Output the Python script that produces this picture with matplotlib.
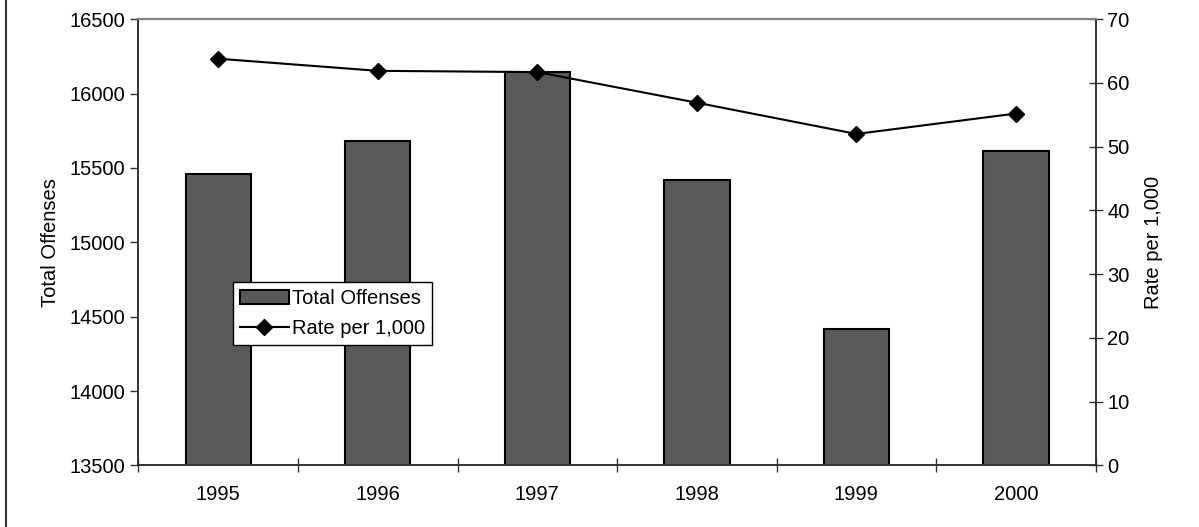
import numpy as np
import matplotlib.pyplot as plt
from matplotlib.lines import Line2D

years = ['1995', '1996', '1997', '1998', '1999', '2000']
offenses = [15461, 15684, 16145, 15422, 14417, 15617]
rate = [63.8, 61.9, 61.7, 56.9, 52.0, 55.2]

plt.rcParams['font.family'] = ['Liberation Sans', 'DejaVu Sans']
fs = 14.5

fig = plt.figure(figsize=(11.99, 5.27), dpi=100)
ax = fig.add_axes([0.1155, 0.1167, 0.7983, 0.8469])
ax2 = ax.twinx()

x = np.arange(len(years))
bars = ax.bar(x, offenses, width=0.41, color='#595959', edgecolor='black', lw=1.5,
              label='Total Offenses', zorder=2)
ln, = ax2.plot(x, rate, color='black', lw=1.5, marker='D', ms=8, label='Rate per 1,000')

ax.set_xlim(-0.5, len(years) - 0.5)
ax.set_ylim(13500, 16500)
ax.set_yticks(np.arange(13500, 16501, 500))
ax2.set_ylim(0, 70)
ax2.set_yticks(np.arange(0, 71, 10))

ax.set_xticks(np.arange(-0.5, len(years), 1))
ax.set_xticklabels([])
ax.set_xticks(x, minor=True)
ax.set_xticklabels(years, minor=True)
ax.tick_params(axis='x', which='major', direction='inout', length=10, width=1, color='#333333')
ax.tick_params(axis='x', which='minor', length=0, pad=14, labelsize=fs)
ax.tick_params(axis='y', direction='out', length=6, width=1, labelsize=fs, color='#333333')
ax2.tick_params(axis='y', direction='inout', length=10, width=1, labelsize=fs, color='#333333')

for a in (ax, ax2):
    a.spines['top'].set_color('#808080')
    a.spines['top'].set_linewidth(1.5)
    for s in ('left', 'right', 'bottom'):
        a.spines[s].set_color('#333333')
        a.spines[s].set_linewidth(1.2)

ax.set_ylabel('Total Offenses', fontsize=fs, labelpad=7)
ax2.set_ylabel('Rate per 1,000', fontsize=fs, labelpad=10)

leg = ax2.legend([bars, ln], ['Total Offenses', 'Rate per 1,000'], loc='lower left',
                 bbox_to_anchor=(0.099, 0.27), fontsize=fs, frameon=True, fancybox=False,
                 framealpha=1, borderpad=0.35, handlelength=2.4, handletextpad=0.15,
                 labelspacing=0.55, borderaxespad=0)
leg.get_frame().set_edgecolor('black')
leg.get_frame().set_linewidth(1)

fig.add_artist(Line2D([0.005, 0.005], [0, 1], transform=fig.transFigure, color='#333333', lw=1.5))

fig.savefig('out.png', dpi=100)
